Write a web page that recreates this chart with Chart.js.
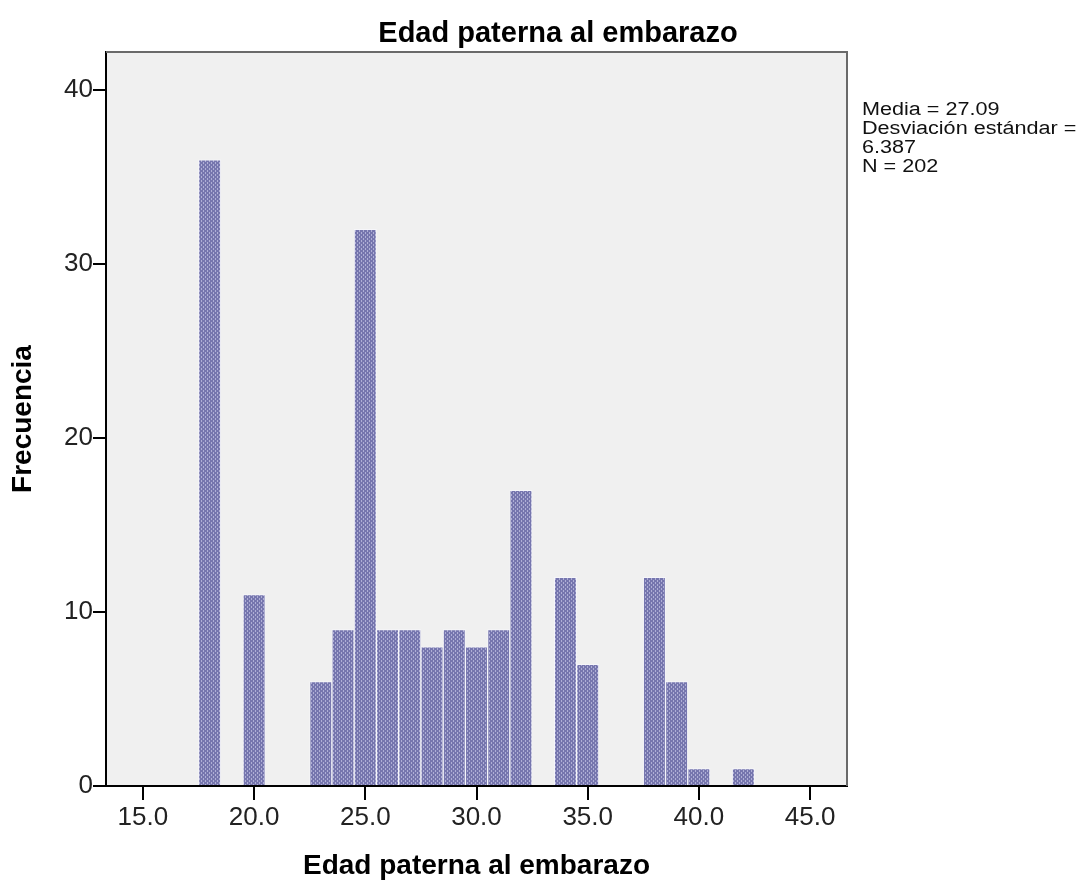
<!DOCTYPE html>
<html>
<head>
<meta charset="utf-8">
<script src="https://cdn.jsdelivr.net/npm/chart.js@4"></script>
<style>
  html, body { margin: 0; padding: 0; background: #fff; }
</style>
</head>
<body>
<canvas id="hist" width="1090" height="886"></canvas>
<script>
// bins are 1 year wide, centred on the whole age
const ages = [18, 20, 23, 24, 25, 26, 27, 28, 29, 30, 31, 32, 34, 35, 38, 39, 40, 42];
const counts = [36, 11, 6, 9, 32, 9, 9, 8, 9, 8, 9, 17, 12, 7, 12, 6, 1, 1];
const xTicks = [15, 20, 25, 30, 35, 40, 45];
const yTicks = [0, 10, 20, 30, 40];
const statLines = ['Media = 27.09', 'Desviación estándar =', '6.387', 'N = 202'];
const chartTitle = 'Edad paterna al embarazo';
const xTitle = 'Edad paterna al embarazo';
const yTitle = 'Frecuencia';

const FONT = '"Liberation Sans", Arial, sans-serif';

// SPSS style dotted fill
function dotPattern() {
    const c = document.createElement('canvas');
    c.width = 4;
    c.height = 4;
    const g = c.getContext('2d');
    g.fillStyle = '#7676ae';
    g.fillRect(0, 0, 4, 4);
    g.fillStyle = '#afafd6';
    g.fillRect(1, 0, 1, 2);
    g.fillRect(3, 2, 1, 2);
    return g.createPattern(c, 'repeat');
}

const plotFrame = {
    id: 'plotFrame',
    beforeDraw(chart) {
        const { ctx, chartArea: a } = chart;
        ctx.save();
        ctx.fillStyle = '#f0f0f0';
        ctx.fillRect(a.left, a.top, a.right - a.left, a.bottom - a.top);
        ctx.restore();
    },
    afterDraw(chart) {
        const { ctx, chartArea: a } = chart;
        ctx.save();
        // top and right frame
        ctx.strokeStyle = '#6a6a6a';
        ctx.lineWidth = 2;
        ctx.beginPath();
        ctx.moveTo(a.left, a.top);
        ctx.lineTo(a.right, a.top);
        ctx.lineTo(a.right, a.bottom);
        ctx.stroke();

        // title
        ctx.fillStyle = '#000';
        ctx.font = 'bold 29px ' + FONT;
        ctx.textAlign = 'center';
        ctx.textBaseline = 'alphabetic';
        ctx.fillText(chartTitle, 558, 42);

        // stats box, SPSS renders it wide
        ctx.font = '18px ' + FONT;
        ctx.textAlign = 'left';
        ctx.fillStyle = '#111';
        ctx.translate(862, 0);
        ctx.scale(1.2, 1);
        statLines.forEach((line, i) => {
            ctx.fillText(line, 0, 115 + i * 19);
        });
        ctx.restore();
    }
};

new Chart(document.getElementById('hist'), {
    type: 'bar',
    data: {
        datasets: [{
            data: ages.map((a, i) => ({ x: a, y: counts[i] })),
            backgroundColor: dotPattern(),
            borderColor: '#f6f6fa',
            borderWidth: { top: 1, left: 1, right: 1, bottom: 0 },
            barPercentage: 1,
            categoryPercentage: 1
        }]
    },
    options: {
        responsive: false,
        devicePixelRatio: 1,
        animation: false,
        layout: { padding: { top: 52, right: 243, left: 0, bottom: 0 } },
        plugins: {
            legend: { display: false },
            tooltip: { enabled: false },
            title: { display: false }
        },
        scales: {
            x: {
                type: 'linear',
                min: 13.34,
                max: 46.66,
                offset: false,
                afterBuildTicks: s => { s.ticks = xTicks.map(v => ({ value: v })); },
                afterFit: s => { s.height = 100; },
                ticks: {
                    autoSkip: false,
                    maxRotation: 0,
                    padding: 2,
                    color: '#222',
                    font: { family: FONT, size: 26 },
                    callback: v => v.toFixed(1)
                },
                grid: {
                    offset: false,
                    drawOnChartArea: false,
                    drawTicks: true,
                    tickLength: 14,
                    color: '#000',
                    lineWidth: 2
                },
                border: { color: '#000', width: 2 },
                title: {
                    display: true,
                    text: xTitle,
                    color: '#000',
                    font: { family: FONT, size: 28, weight: 'bold' },
                    padding: { top: 0, bottom: 3 }
                }
            },
            y: {
                min: 0,
                max: 42.2,
                afterBuildTicks: s => { s.ticks = yTicks.map(v => ({ value: v })); },
                afterFit: s => { s.width = 106; },
                ticks: {
                    padding: 0,
                    color: '#222',
                    font: { family: FONT, size: 26 },
                    callback: v => String(v)
                },
                grid: {
                    drawOnChartArea: false,
                    drawTicks: true,
                    tickLength: 13,
                    color: '#000',
                    lineWidth: 2
                },
                border: { color: '#000', width: 2 },
                title: {
                    display: true,
                    text: yTitle,
                    color: '#000',
                    font: { family: FONT, size: 28, weight: 'bold' },
                    padding: { top: 6, bottom: 0 }
                }
            }
        }
    },
    plugins: [plotFrame]
});
</script>
</body>
</html>
